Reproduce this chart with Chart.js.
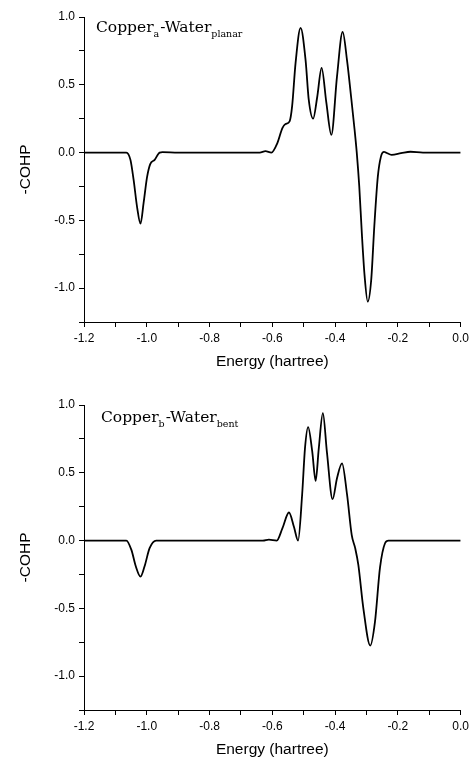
<!DOCTYPE html>
<html>
<head>
<meta charset="utf-8">
<script src="https://cdn.jsdelivr.net/npm/chart.js@4"></script>
<style>
html, body { margin: 0; padding: 0; background: #fff; overflow: hidden; }
#wrap { position: relative; width: 473px; height: 757px; }
#c1 { position: absolute; left: 0; top: 0; }
#c2 { position: absolute; left: 0; top: 380px; }
</style>
</head>
<body>
<div id="wrap">
  <canvas id="c1" width="473" height="380"></canvas>
  <canvas id="c2" width="473" height="390"></canvas>
</div>
<script>
// Copper(a)-Water(planar): energy (hartree) and -COHP
const energyA = [-1.200, -1.065, -1.052, -1.042, -1.031, -1.020, -1.010, -0.999, -0.989, -0.975,
    -0.959, -0.950, -0.900, -0.640, -0.622, -0.603, -0.584, -0.568, -0.558, -0.545,
    -0.537, -0.526, -0.510, -0.494, -0.484, -0.470, -0.457, -0.443, -0.428, -0.412,
    -0.394, -0.376, -0.362, -0.349, -0.338, -0.331, -0.323, -0.315, -0.306, -0.296,
    -0.285, -0.275, -0.264, -0.254, -0.244, -0.238, -0.220, -0.190, -0.160, -0.120, 0.000];
const cohpA = [0, 0, -0.054, -0.20, -0.40, -0.525, -0.37, -0.18, -0.085, -0.054,
    0, 0.003, 0, 0, 0.01, 0.0, 0.07, 0.18, 0.21, 0.23,
    0.34, 0.66, 0.92, 0.68, 0.39, 0.25, 0.41, 0.625, 0.37, 0.13,
    0.56, 0.89, 0.68, 0.41, 0.17, 0.0, -0.25, -0.59, -0.91, -1.10,
    -0.94, -0.54, -0.18, -0.03, 0.005, 0.0, -0.017, -0.005, 0.006, 0, 0];

// Copper(b)-Water(bent)
const energyB = [-1.200, -1.065, -1.049, -1.035, -1.020, -1.007, -0.991, -0.970, -0.630, -0.611,
    -0.586, -0.568, -0.547, -0.531, -0.518, -0.505, -0.496, -0.486, -0.473, -0.462,
    -0.452, -0.439, -0.426, -0.408, -0.394, -0.378, -0.362, -0.347, -0.336, -0.326,
    -0.310, -0.288, -0.273, -0.257, -0.241, -0.230, 0.000];
const cohpB = [0, 0, -0.069, -0.19, -0.266, -0.19, -0.056, 0, 0, 0.007,
    0, 0.09, 0.207, 0.10, 0.0, 0.34, 0.68, 0.837, 0.66, 0.44,
    0.68, 0.94, 0.65, 0.305, 0.46, 0.57, 0.34, 0.04, -0.056, -0.18,
    -0.50, -0.775, -0.60, -0.20, -0.02, 0, 0];

const xMin = -1.2, xMax = 0, xStep = 0.1;
const yMin = -1.25, yMax = 1.0, yStep = 0.25;

// 带下标的图内标注
const subLabelPlugin = {
    id: 'subLabel',
    afterDraw(chart, args, opts) {
        const ctx = chart.ctx;
        let x = opts.x;
        ctx.save();
        ctx.fillStyle = '#000';
        ctx.textBaseline = 'alphabetic';
        opts.parts.forEach(p => {
            const sub = p[1];
            ctx.font = (sub ? '9.5px' : '15.5px') + ' "DejaVu Serif", serif';
            ctx.fillText(p[0], x, opts.y + (sub ? 5 : 0));
            x += ctx.measureText(p[0]).width + (sub ? 1 : 0);
        });
        ctx.restore();
    }
};

function makeChart(id, energy, cohp, parts, labelX, labelY, padTop, xHeight, titlePadBottom) {
    const ctx = document.getElementById(id).getContext('2d');
    return new Chart(ctx, {
        type: 'line',
        data: {
            datasets: [{
                data: energy.map((e, i) => ({ x: e, y: cohp[i] })),
                borderColor: '#000',
                borderWidth: 1.8,
                pointRadius: 0,
                fill: false,
                cubicInterpolationMode: 'monotone'
            }]
        },
        options: {
            responsive: false,
            animation: false,
            devicePixelRatio: 1,
            layout: { padding: { top: padTop, right: 10, left: 0, bottom: 0 } },
            scales: {
                x: {
                    type: 'linear',
                    min: xMin,
                    max: xMax,
                    afterFit(scale) { scale.height = xHeight; },
                    grid: { drawOnChartArea: false, drawTicks: true, tickLength: 5, tickColor: '#000' },
                    border: { display: true, color: '#000', width: 1 },
                    ticks: {
                        stepSize: xStep,
                        autoSkip: false,
                        maxRotation: 0,
                        padding: 4,
                        color: '#000',
                        font: { family: '"Liberation Sans", Arial, sans-serif', size: 12 },
                        callback: v => {
                            if (Math.abs(v) < 1e-9) return '0.0';
                            return Math.round(v * 10) % 2 === 0 ? v.toFixed(1) : '';
                        }
                    },
                    title: {
                        display: true,
                        text: 'Energy (hartree)',
                        color: '#000',
                        font: { family: '"Liberation Sans", Arial, sans-serif', size: 15.5 },
                        padding: { top: 0, bottom: titlePadBottom }
                    }
                },
                y: {
                    min: yMin,
                    max: yMax,
                    afterFit(scale) { scale.width = 84; },
                    grid: { drawOnChartArea: false, drawTicks: true, tickLength: 5, tickColor: '#000' },
                    border: { display: true, color: '#000', width: 1 },
                    ticks: {
                        stepSize: yStep,
                        autoSkip: false,
                        padding: 4,
                        color: '#000',
                        font: { family: '"Liberation Sans", Arial, sans-serif', size: 12 },
                        callback: v => {
                            if (Math.abs(v) < 1e-9) return '0.0';
                            return Math.round(v * 4) % 2 === 0 ? v.toFixed(1) : '';
                        }
                    },
                    title: {
                        display: true,
                        text: '-COHP',
                        color: '#000',
                        font: { family: '"Liberation Sans", Arial, sans-serif', size: 15.5 },
                        padding: { top: 16, bottom: 0 }
                    }
                }
            },
            plugins: {
                legend: { display: false },
                tooltip: { enabled: false },
                subLabel: { x: labelX, y: labelY, parts: parts }
            }
        },
        plugins: [subLabelPlugin]
    });
}

makeChart('c1', energyA, cohpA,
    [['Copper', false], ['a', true], ['-Water', false], ['planar', true]],
    96, 32, 17, 58, 9);
makeChart('c2', energyB, cohpB,
    [['Copper', false], ['b', true], ['-Water', false], ['bent', true]],
    101, 42, 25, 60, 11);
</script>
</body>
</html>
